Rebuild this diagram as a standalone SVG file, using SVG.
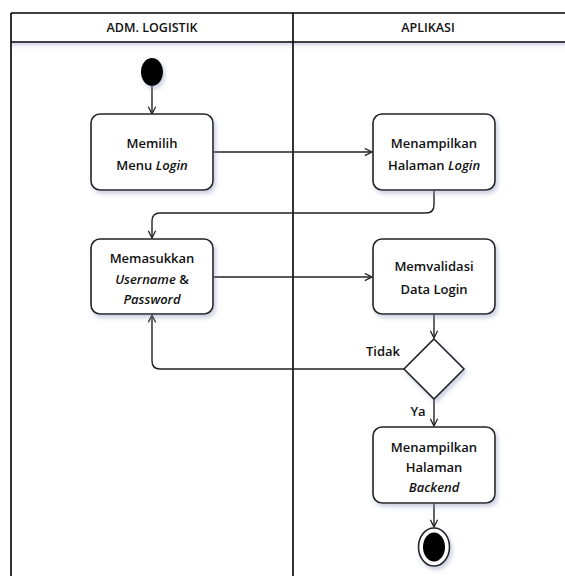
<svg xmlns="http://www.w3.org/2000/svg" width="565" height="576" viewBox="0 0 565 576">
<defs>
<style>
.lane{stroke:#000;stroke-width:1.6;fill:none}
.box{fill:#fff;stroke:#222;stroke-width:1.6;filter:url(#sh)}
.t{font-family:"Open Sans","Noto Sans",sans-serif;font-size:13px;font-weight:600;fill:#111;text-anchor:middle}
.h{font-family:"Open Sans","Noto Sans",sans-serif;font-size:12.5px;font-weight:600;fill:#111;text-anchor:middle}
.i{font-style:italic}
.c{stroke:#222;stroke-width:1.4;fill:none;marker-end:url(#ar)}
</style>
<marker id="ar" viewBox="0 0 10 10" refX="9" refY="5" markerWidth="9" markerHeight="9" markerUnits="userSpaceOnUse" orient="auto">
<path d="M1,1 L9,5 L1,9" fill="none" stroke="#222" stroke-width="1.4"/>
</marker>
<filter id="sh" x="-10%" y="-10%" width="125%" height="130%">
<feDropShadow dx="2" dy="3" stdDeviation="2" flood-color="#8a94b8" flood-opacity="0.45"/>
</filter>
<linearGradient id="hg" x1="0" y1="0" x2="0" y2="1">
<stop offset="0" stop-color="#c8cde0" stop-opacity="0.8"/>
<stop offset="1" stop-color="#ffffff" stop-opacity="0"/>
</linearGradient>
</defs>
<rect width="565" height="576" fill="#fff"/>
<g id="lanes">
<rect x="11" y="43" width="554" height="8" fill="url(#hg)"/>
<line class="lane" x1="11" y1="13" x2="565" y2="13"/>
<line class="lane" x1="11" y1="42" x2="565" y2="42"/>
<line class="lane" x1="11" y1="13" x2="11" y2="576"/>
<line class="lane" x1="293" y1="13" x2="293" y2="576"/>
<text class="h" x="152" y="32">ADM. LOGISTIK</text>
<text class="h" x="428" y="32">APLIKASI</text>
</g>
<g id="connectors">
<path class="c" d="M152,86 V114"/>
<path class="c" d="M213,152 H372"/>
<path class="c" d="M434,190 V205 Q434,213 426,213 H160 Q152,213 152,221 V238"/>
<path class="c" d="M213,277 H372"/>
<path class="c" d="M434,314 V338"/>
<path class="c" d="M404,369 H160 Q152,369 152,361 V315"/>
<path class="c" d="M434,399 V426"/>
<path class="c" d="M434,503 V527"/>
<text class="t" x="383" y="356">Tidak</text>
<text class="t" x="418" y="416">Ya</text>
</g>
<g id="start"><ellipse cx="152" cy="72" rx="11" ry="14" fill="#000" filter="url(#sh)"/></g>
<g id="n1"><rect class="box" x="91" y="114" width="122" height="76" rx="9"/>
<text class="t" x="152" y="148">Memilih</text>
<text class="t" x="152" y="170">Menu <tspan class="i">Login</tspan></text></g>
<g id="n2"><rect class="box" x="373" y="114" width="122" height="76" rx="9"/>
<text class="t" x="434" y="148">Menampilkan</text>
<text class="t" x="434" y="170">Halaman <tspan class="i">Login</tspan></text></g>
<g id="n3"><rect class="box" x="91" y="239" width="122" height="75" rx="9"/>
<text class="t" x="152" y="263">Memasukkan</text>
<text class="t" x="152" y="284"><tspan class="i">Username</tspan> &amp;</text>
<text class="t" x="152" y="304" font-style="italic">Password</text></g>
<g id="n4"><rect class="box" x="373" y="239" width="122" height="75" rx="9"/>
<text class="t" x="434" y="271">Memvalidasi</text>
<text class="t" x="434" y="294">Data Login</text></g>
<g id="decision"><path d="M434,339 L464,369 L434,399 L404,369 Z" fill="#fff" stroke="#222" stroke-width="1.6" filter="url(#sh)"/></g>
<g id="n5"><rect class="box" x="373" y="427" width="122" height="76" rx="9"/>
<text class="t" x="434" y="452">Menampilkan</text>
<text class="t" x="434" y="472">Halaman</text>
<text class="t" x="434" y="492" font-style="italic">Backend</text></g>
<g id="end"><ellipse cx="434" cy="547" rx="15.5" ry="19" fill="#fff" stroke="#222" stroke-width="1.6" filter="url(#sh)"/>
<ellipse cx="434" cy="547" rx="11" ry="14.5" fill="#000"/></g>
</svg>
